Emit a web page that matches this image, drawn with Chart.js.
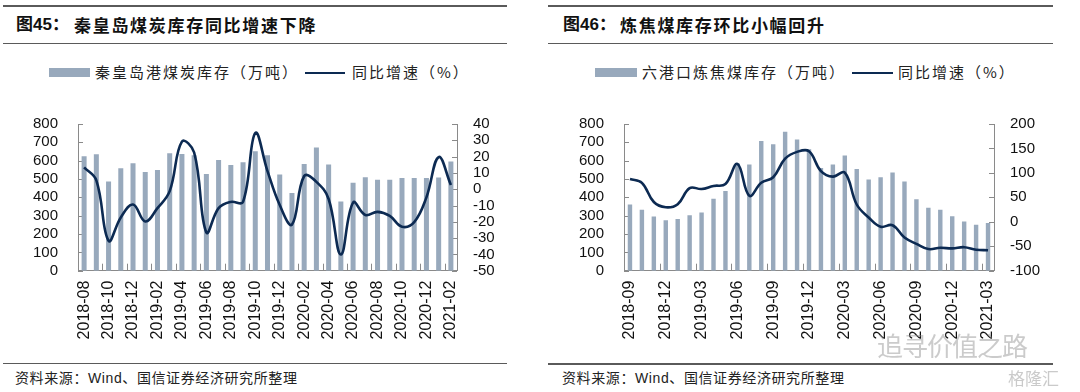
<!DOCTYPE html>
<html><head><meta charset="utf-8">
<script src="https://cdn.jsdelivr.net/npm/chart.js@4"></script>
<style>
html,body{margin:0;padding:0;background:#fff;}
body{width:1080px;height:392px;position:relative;overflow:hidden;font-family:"Liberation Sans","Noto Sans CJK SC",sans-serif;}
.abs{position:absolute;}
.rule{position:absolute;height:1.5px;background:#5a5a5a;}
.title{position:absolute;font-family:"Liberation Sans","Noto Sans CJK SC",sans-serif;font-weight:bold;font-size:17px;line-height:20px;color:#111;white-space:nowrap;}
.title .t{position:absolute;top:0;letter-spacing:1.7px;font-family:"Noto Sans CJK SC",sans-serif;}
.leg{position:absolute;font-family:"Noto Sans CJK SC",sans-serif;font-size:15px;line-height:20px;color:#222;white-space:nowrap;letter-spacing:2px;}
.src{position:absolute;font-family:"Liberation Sans","Noto Sans CJK SC",sans-serif;font-size:14px;line-height:18px;color:#222;white-space:nowrap;letter-spacing:0.6px;}
canvas{position:absolute;}
</style></head>
<body>
<!-- left panel -->
<div class="rule" style="left:3px;top:5px;width:504px"></div>
<div class="title" style="left:16px;top:15px">图45：<span class="t" style="left:58px">秦皇岛煤炭库存同比增速下降</span></div>
<div class="rule" style="left:3px;top:42.5px;width:504px"></div>
<div class="abs" id="lbox1" style="left:49px;top:68px;width:41px;height:9px"></div>
<div class="leg" style="left:95px;top:62px">秦皇岛港煤炭库存（万吨）</div>
<div class="abs" id="lline1" style="left:305px;top:71.5px;width:40px;height:2.5px"></div>
<div class="leg" style="left:352px;top:62px">同比增速（%）</div>
<div style="position:absolute;left:0;top:95px;width:540px;height:262px"><canvas id="c1" width="540" height="262"></canvas></div>
<div class="rule" style="left:3px;top:362.5px;width:504px"></div>
<div class="src" style="left:15px;top:369px">资料来源：Wind、国信证券经济研究所整理</div>

<!-- right panel -->
<div class="rule" style="left:548px;top:5px;width:505px"></div>
<div class="title" style="left:563px;top:15px">图46：<span class="t" style="left:57px">炼焦煤库存环比小幅回升</span></div>
<div class="rule" style="left:548px;top:42.5px;width:505px"></div>
<div class="abs" id="lbox2" style="left:595px;top:68px;width:42px;height:9px"></div>
<div class="leg" style="left:642px;top:62px">六港口炼焦煤库存（万吨）</div>
<div class="abs" id="lline2" style="left:852px;top:71.5px;width:41px;height:2.5px"></div>
<div class="leg" style="left:898px;top:62px">同比增速（%）</div>
<div style="position:absolute;left:540px;top:95px;width:540px;height:262px"><canvas id="c2" width="540" height="262"></canvas></div>
<div class="rule" style="left:548px;top:363px;width:505px"></div>
<div class="src" style="left:562px;top:369px">资料来源：Wind、国信证券经济研究所整理</div>

<!-- watermarks -->
<div class="abs" style="left:877px;top:328px;font-family:'Noto Sans CJK SC';font-size:26px;line-height:34px;color:rgba(140,140,140,0.45);letter-spacing:-1px;white-space:nowrap">追寻价值之路</div>
<div class="abs" style="left:1008px;top:368px;font-family:'Noto Sans CJK SC';font-size:17px;line-height:20px;color:rgba(150,150,150,0.5);white-space:nowrap">格隆汇</div>

<script>
// ---------- data ----------
const months1 = ["2018-08","2018-09","2018-10","2018-11","2018-12","2019-01","2019-02","2019-03","2019-04","2019-05","2019-06","2019-07","2019-08","2019-09","2019-10","2019-11","2019-12","2020-01","2020-02","2020-03","2020-04","2020-05","2020-06","2020-07","2020-08","2020-09","2020-10","2020-11","2020-12","2021-01","2021-02"];
const stock1 = [624,635,486,559,586,538,549,641,636,630,528,604,576,592,651,630,525,424,582,672,579,378,479,510,496,496,505,505,505,508,596];
const yoy1 = [13.4,5.4,-31.6,-17.3,-9.4,-19.8,-11.6,-1.2,29.2,22.5,-26.5,-11.6,-7.8,-7.8,34.5,11.1,-9.7,-21.7,8.1,4.5,-6,-40.1,-8.2,-15.8,-13.9,-16.4,-23,-20.2,-5,19.7,2.6];

const months2 = ["2018-09","2018-10","2018-11","2018-12","2019-01","2019-02","2019-03","2019-04","2019-05","2019-06","2019-07","2019-08","2019-09","2019-10","2019-11","2019-12","2020-01","2020-02","2020-03","2020-04","2020-05","2020-06","2020-07","2020-08","2020-09","2020-10","2020-11","2020-12","2021-01","2021-02","2021-03"];
const stock2 = [361,332,295,275,282,302,317,393,435,586,579,707,689,758,716,662,560,579,628,555,498,510,535,486,390,343,332,297,268,250,260];
const yoy2 = [87.3,79.7,40.5,29.7,36.1,69,67,73.4,77.2,118.4,53.2,79.7,91.1,129.1,143,144.3,103.8,92.4,100.6,35.4,8.9,-10.1,-7,-32.3,-45,-55.7,-53.2,-54.4,-51.9,-57,-58.2];

const leftTicks1 = {min:0, max:800, step:100};
const rightTicks1 = {min:-50, max:40, step:10};
const leftTicks2 = {min:0, max:800, step:100};
const rightTicks2 = {min:-100, max:200, step:50};

const legBar1 = "秦皇岛港煤炭库存（万吨）";
const legLine = "同比增速（%）";
const legBar2 = "六港口炼焦煤库存（万吨）";

// ---------- style ----------
const BAR = "#98a9bc";
const LINE = "#0c2a52";
const AXIS = "#8a8a8a";
const TXT = "#111";
document.getElementById('lbox1').style.background = BAR;
document.getElementById('lbox2').style.background = BAR;
document.getElementById('lline1').style.background = LINE;
document.getElementById('lline2').style.background = LINE;

const innerTicks = {
  id: 'innerTicks',
  beforeDatasetsDraw(chart, args, o) {
    const {ctx, chartArea: a, scales} = chart;
    ctx.save();
    ctx.strokeStyle = AXIS; ctx.lineWidth = 1;
    const seg = (x1,y1,x2,y2)=>{ctx.beginPath();ctx.moveTo(x1,y1);ctx.lineTo(x2,y2);ctx.stroke();};
    scales.y.ticks.forEach((t,i)=>{const y=Math.round(scales.y.getPixelForTick(i))+0.5; seg(a.left,y,a.left+5,y);});
    scales.y1.ticks.forEach((t,i)=>{const y=Math.round(scales.y1.getPixelForTick(i))+0.5; seg(a.right-5,y,a.right,y);});
    const n = chart.data.labels.length;
    for (let i=o.start; i<n-1; i+=o.every) {
      const x = Math.round((scales.x.getPixelForValue(i)+scales.x.getPixelForValue(i+1))/2)+0.5;
      seg(x, a.bottom, x, a.bottom-7);
    }
    ctx.restore();
  }
};

function makeChart(id, labels, bars, line, lt, rt, every, tickStart, wL, wR, barPct, barLabel) {
  const numFont = {family:"Liberation Sans", size:15};
  return new Chart(document.getElementById(id), {
    type:'bar',
    data:{labels, datasets:[
      {type:'line', label:legLine, data:line, yAxisID:'y1', borderColor:LINE, borderWidth:2.6, pointRadius:0, tension:0.4, order:0, fill:false},
      {type:'bar', label:barLabel, data:bars, yAxisID:'y', backgroundColor:BAR, categoryPercentage:1, barPercentage:barPct, order:1}
    ]},
    options:{
      responsive:false, animation:false, devicePixelRatio:1,
      layout:{padding:{top:17.7, left:0, right:0, bottom:0}},
      plugins:{legend:{display:false}, tooltip:{enabled:false}, innerTicks:{every, start:tickStart}},
      scales:{
        x:{offset:true, grid:{display:false, drawTicks:false, offset:true}, border:{display:true, color:AXIS, width:1},
           ticks:{autoSkip:false, maxRotation:90, minRotation:90, padding:10, color:TXT, font:{family:"Liberation Sans", size:16},
                  callback:(v,i)=> i%every===0 ? labels[i] : ''},
           afterFit:(s)=>{s.height=86.3;}},
        y:{position:'left', min:lt.min, max:lt.max, grid:{display:false, drawTicks:false}, border:{display:true, color:AXIS, width:1},
           ticks:{stepSize:lt.step, autoSkip:false, padding:20, color:TXT, font:numFont}, afterFit:(s)=>{s.width=wL;}},
        y1:{position:'right', min:rt.min, max:rt.max, grid:{display:false, drawTicks:false}, border:{display:true, color:AXIS, width:1},
           ticks:{stepSize:rt.step, autoSkip:false, padding:16, color:TXT, font:numFont}, afterFit:(s)=>{s.width=wR;}}
      }
    },
    plugins:[innerTicks]
  });
}

makeChart('c1', months1, stock1, yoy1, leftTicks1, rightTicks1, 2, 1, 78, 83, 0.41, legBar1);
makeChart('c2', months2, stock2, yoy2, leftTicks2, rightTicks2, 3, 2, 84, 86, 0.37, legBar2);
</script>
</body></html>
